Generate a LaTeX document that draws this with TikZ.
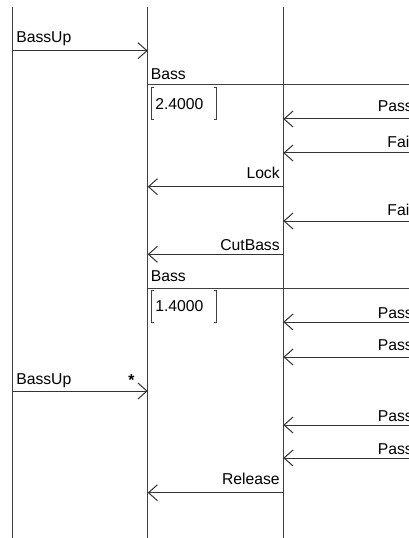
\documentclass[tikz,border=0pt]{standalone}
\usepackage{fontspec}
\setmainfont{Liberation Sans}
\usetikzlibrary{arrows.meta}

\tikzset{
  lifeline/.style={draw=black!75,line width=0.75pt},
  msg/.style={draw=black!80,line width=0.75pt,-{Straight Barb[length=6.75pt,width=12pt]}},
  lbl/.style={inner sep=0pt,font=\fontsize{11.8pt}{13pt}\selectfont},
  valbox/.style={lbl,inner xsep=3pt,inner ysep=0pt,text width=42.75pt,align=left,minimum height=23.25pt}
}

\begin{document}
\begin{tikzpicture}[x=0.75pt,y=-0.75pt]
\useasboundingbox (0,0) rectangle (409,538);
\clip (0,0) rectangle (409,538);

% lifelines (D lies just past the right edge)
\coordinate (A) at (12.7,7);
\coordinate (B) at (147.7,7);
\coordinate (C) at (283.3,7);
\coordinate (D) at (417,7);
\foreach \l in {A,B,C} \draw[lifeline] (\l) -- (\l |- 0,538);

% one row of points per message
\foreach \r/\y in {1/50.7,2/85,3/119,4/153,5/186.7,6/221,7/254.3,8/288.3,9/322,10/357,11/391,12/425,13/458,14/492.7}
  \foreach \l in {A,B,C,D} \coordinate (\l\r) at (\l |- 0,\y);

% messages
\draw[msg] (A1) -- (B1);
\node[lbl,anchor=base west] (bassup1) at ([shift={(3.3,-7.7)}]A1) {BassUp};

\draw[lifeline] (B2) -- (D2);
\node[lbl,anchor=base west] (bass1) at ([shift={(2.8,-5)}]B2) {Bass};
\node[valbox,anchor=north west] (val1) at ([shift={(3.3,3)}]B2) {2.4000};
\draw[lifeline] ([xshift=2.25pt]val1.north west) -- (val1.north west) -- (val1.south west) -- ++(3,0);
\draw[lifeline] ([xshift=-2.25pt]val1.north east) -- (val1.north east) -- (val1.south east) -- ++(-3,0);

\draw[msg] (D3) -- (C3);
\node[lbl,anchor=base east] (pass1) at ([shift={(-4,-7)}]D3) {Pass};
\draw[msg] (D4) -- (C4);
\node[lbl,anchor=base east] (fail1) at ([shift={(-4,-5)}]D4) {Fail};
\draw[msg] (C5) -- (B5);
\node[lbl,anchor=base east] (lock) at ([shift={(-3.3,-7.7)}]C5) {Lock};
\draw[msg] (D6) -- (C6);
\node[lbl,anchor=base east] (fail2) at ([shift={(-4,-6)}]D6) {Fail};
\draw[msg] (C7) -- (B7);
\node[lbl,anchor=base east] (cutbass) at ([shift={(-3.3,-4)}]C7) {CutBass};

\draw[lifeline] (B8) -- (D8);
\node[lbl,anchor=base west] (bass2) at ([shift={(2.8,-6.6)}]B8) {Bass};
\node[valbox,anchor=north west] (val2) at ([shift={(3.3,2.4)}]B8) {1.4000};
\draw[lifeline] ([xshift=2.25pt]val2.north west) -- (val2.north west) -- (val2.south west) -- ++(3,0);
\draw[lifeline] ([xshift=-2.25pt]val2.north east) -- (val2.north east) -- (val2.south east) -- ++(-3,0);

\draw[msg] (D9) -- (C9);
\node[lbl,anchor=base east] (pass2) at ([shift={(-4,-4)}]D9) {Pass};
\draw[msg] (D10) -- (C10);
\node[lbl,anchor=base east] (pass3) at ([shift={(-4,-7)}]D10) {Pass};

\draw[msg] (A11) -- (B11);
\node[lbl,anchor=base west] (bassup2) at ([shift={(3.3,-7)}]A11) {BassUp};
\node[lbl,anchor=base east] (star) at ([shift={(-13,-6)}]B11) {\bfseries *};

\draw[msg] (D12) -- (C12);
\node[lbl,anchor=base east] (pass4) at ([shift={(-4,-3.3)}]D12) {Pass};
\draw[msg] (D13) -- (C13);
\node[lbl,anchor=base east] (pass5) at ([shift={(-4,-4)}]D13) {Pass};
\draw[msg] (C14) -- (B14);
\node[lbl,anchor=base east] (release) at ([shift={(-3.3,-8.4)}]C14) {Release};
\end{tikzpicture}
\end{document}
